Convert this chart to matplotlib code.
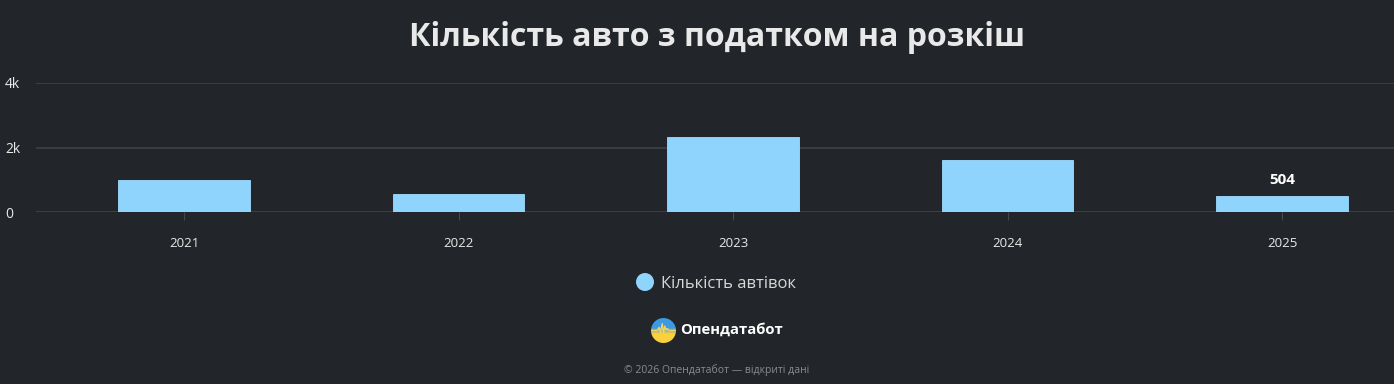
import numpy as np
import matplotlib
matplotlib.use("Agg")
import matplotlib.pyplot as plt
from matplotlib.patches import Circle, Ellipse

years = ["2021", "2022", "2023", "2024", "2025"]
counts = [995, 555, 2330, 1610, 504]
y_ticks = [0, 2000, 4000]
y_labels = ["0", "2k", "4k"]

bg = "#222529"
bar_color = "#8ed4fd"
grid_color = "#3c4045"
text_color = "#e9e9e9"

plt.rcParams['font.family'] = ['Open Sans', 'DejaVu Sans']

W, H = 1394, 384
fig = plt.figure(figsize=(W / 100, H / 100), dpi=100)
fig.patch.set_facecolor(bg)

# plot area: 0 -> y=212px, 4k -> y=83px
ax = fig.add_axes([36 / W, 1 - 212 / H, 1 - 36 / W, (212 - 83) / H])
ax.set_facecolor(bg)

x = np.arange(len(years))
ax.bar(x, counts, width=0.48, color=bar_color, edgecolor="#9fdcff", linewidth=0.6, zorder=3)

ax.set_xlim((36 - 184) / 274.5, (1394 - 184) / 274.5)
ax.set_ylim(0, 4000)
ax.set_yticks(y_ticks)
ax.set_yticklabels(y_labels)
ax.set_xticks(x)
ax.set_xticklabels(years)

ax.grid(axis="y", color=grid_color, linewidth=1.3, zorder=0)
for s in ax.spines.values():
    s.set_visible(False)
ax.axhline(0, color="#45494e", linewidth=1.0, zorder=2)

ax.tick_params(axis="y", length=0, labelsize=10, labelcolor=text_color)
ax.tick_params(axis="x", length=6, width=0.8, color="#45494e", pad=12, labelsize=9.5, labelcolor=text_color)
for lbl in ax.get_yticklabels():
    lbl.set_horizontalalignment("left")
    lbl.set_x(-31 / 1358)
ax.yaxis.set_tick_params(pad=0)

# value label on last bar
ax.text(x[-1], counts[-1] + 260, f"{counts[-1]}", ha="center", va="bottom",
        color="white", fontsize=11, fontweight="bold")

# title
fig.text(717 / W, 1 - 38 / H, "Кількість авто з податком на розкіш", ha="center", va="center",
         color=text_color, fontsize=23, fontweight="bold")

# legend
fig.patches.append(Ellipse((645 / W, 1 - 282 / H), 18 / W, 18 / H, transform=fig.transFigure,
                           facecolor=bar_color, edgecolor="none"))
fig.text(661 / W, 1 - 284 / H, "Кількість автівок", ha="left", va="center",
         color="#d8d8d8", fontsize=12)

# logo
lax = fig.add_axes([651 / W, 1 - 343 / H, 25 / W, 25 / H])
lax.axis("off")
grad = np.zeros((50, 1, 3))
top = np.array([0.24, 0.60, 0.88])
bot = np.array([0.98, 0.82, 0.25])
for i in range(50):
    t = min(max((i - 20) / 12, 0), 1)
    grad[i, 0] = top * (1 - t) + bot * t
im = lax.imshow(grad, extent=[-1, 1, -1, 1], aspect="auto", origin="upper")
clip = Circle((0, 0), 1, transform=lax.transData)
im.set_clip_path(clip)
wave_x = [-1, -0.5, -0.35, -0.25, -0.1, 0.0, 0.1, 0.2, 0.3, 0.45, 1]
wave_y = [0.0, 0.0, 0.25, -0.15, 0.55, -0.2, 0.35, 0.05, 0.15, 0.0, 0.0]
ln, = lax.plot(wave_x, wave_y, color="#f4d35e", linewidth=1.0)
ln.set_clip_path(clip)
lax.set_xlim(-1, 1)
lax.set_ylim(-1, 1)

fig.text(680 / W, 1 - 330 / H, "Опендатабот", ha="left", va="center",
         color="white", fontsize=10.7, fontweight="bold")

fig.text(717 / W, 1 - 370 / H, "© 2026 Опендатабот — відкриті дані", ha="center", va="center",
         color="#8a8c8f", fontsize=7.5)

fig.savefig("out.png", dpi=100, facecolor=bg)
